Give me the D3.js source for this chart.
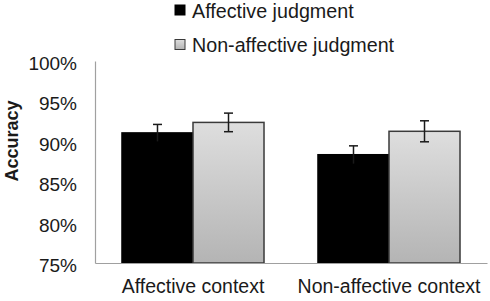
<!DOCTYPE html>
<html>
<head>
<meta charset="utf-8">
<script src="https://cdn.jsdelivr.net/npm/d3@7"></script>
<style>
  body { margin: 0; background: #fff; }
  text { font-family: Arial, "Liberation Sans", Helvetica, sans-serif; fill: #1a1a1a; }
</style>
</head>
<body>
<svg id="chart" width="490" height="301"></svg>
<script>
var categories = ["Affective context", "Non-affective context"]
var series = ["Affective judgment", "Non-affective judgment"]
var affective = [0.911, 0.884]
var nonAffective = [0.924, 0.913]
var affectiveErr = [0.0105, 0.011]
var nonAffectiveErr = [0.0115, 0.013]
var yTicks = [0.75, 0.80, 0.85, 0.90, 0.95, 1.00]

var rows = categories.map((c, i) => ({
  cat: c,
  vals: [
    {key: series[0], v: affective[i], e: affectiveErr[i]},
    {key: series[1], v: nonAffective[i], e: nonAffectiveErr[i]}
  ]
}))

var svg = d3.select("#chart"),
    margin = {top: 61, left: 95, bottom: 38, right: 3},
    width = +svg.attr("width"),
    height = +svg.attr("height");

var defs = svg.append("defs")
var grad = defs.append("linearGradient").attr("id", "grayGrad")
    .attr("x1", 0).attr("y1", 0).attr("x2", 0).attr("y2", 1)
grad.append("stop").attr("offset", "0%").attr("stop-color", "#dedede")
grad.append("stop").attr("offset", "100%").attr("stop-color", "#b4b4b4")

var x0 = d3.scaleBand()
    .domain(categories)
    .range([margin.left, width - margin.right])

var x1 = d3.scaleBand()
    .domain(series)
    .range([0, x0.bandwidth()])
    .paddingOuter(0.38)

var y = d3.scaleLinear()
    .domain([0.75, 1])
    .range([height - margin.bottom, margin.top])

var fill = d3.scaleOrdinal().domain(series).range(["#000", "url(#grayGrad)"])
var stroke = d3.scaleOrdinal().domain(series).range(["#000", "#3a3a3a"])

// y axis (labels only, plain vertical line)
var yAxis = svg.append("g")
    .attr("transform", `translate(${margin.left},0)`)
    .call(d3.axisLeft(y).tickValues(yTicks).tickSize(0).tickPadding(18).tickFormat(d3.format(".0%")))
yAxis.select(".domain").attr("stroke", "#a0a0a0").attr("stroke-width", 1.2)
yAxis.selectAll("text").style("font-size", "19px").attr("dy", "0.45em").attr("fill", "#1a1a1a")

// bars
var groups = svg.selectAll("g.group")
    .data(rows)
    .enter().append("g")
    .attr("class", "group")
    .attr("transform", d => `translate(${x0(d.cat)},0)`)

groups.selectAll("rect")
    .data(d => d.vals)
    .enter().append("rect")
    .attr("x", d => x1(d.key))
    .attr("y", d => y(d.v))
    .attr("width", x1.bandwidth())
    .attr("height", d => y(0.75) - y(d.v))
    .attr("fill", d => fill(d.key))
    .attr("stroke", d => stroke(d.key))
    .attr("stroke-width", 1.5)

// error bars
var eb = groups.selectAll("g.err")
    .data(d => d.vals)
    .enter().append("g")
    .attr("class", "err")
    .attr("stroke", "#1a1a1a")
    .attr("stroke-width", 1.5)
eb.append("line")
    .attr("x1", d => x1(d.key) + x1.bandwidth() / 2)
    .attr("x2", d => x1(d.key) + x1.bandwidth() / 2)
    .attr("y1", d => y(d.v + d.e))
    .attr("y2", d => y(d.v - d.e))
eb.append("line")
    .attr("x1", d => x1(d.key) + x1.bandwidth() / 2 - 4.5)
    .attr("x2", d => x1(d.key) + x1.bandwidth() / 2 + 4.5)
    .attr("y1", d => y(d.v + d.e))
    .attr("y2", d => y(d.v + d.e))
eb.filter(d => d.key == series[1]).append("line")
    .attr("x1", d => x1(d.key) + x1.bandwidth() / 2 - 4.5)
    .attr("x2", d => x1(d.key) + x1.bandwidth() / 2 + 4.5)
    .attr("y1", d => y(d.v - d.e))
    .attr("y2", d => y(d.v - d.e))

// x axis
var xAxis = svg.append("g")
    .attr("transform", `translate(0,${y(0.75)})`)
    .call(d3.axisBottom(x0).tickSize(0).tickPadding(16).tickSizeOuter(0))
xAxis.select(".domain").attr("stroke", "#a0a0a0").attr("stroke-width", 1.2)
xAxis.selectAll("text").style("font-size", "19.5px").attr("fill", "#1a1a1a")

// y title
svg.append("text")
    .attr("transform", "translate(18,141) rotate(-90)")
    .attr("text-anchor", "middle")
    .style("font-size", "18px")
    .style("font-weight", "bold")
    .text("Accuracy")

// legend
var legend = svg.selectAll("g.legend")
    .data(series)
    .enter().append("g")
    .attr("class", "legend")
    .attr("transform", (d, i) => `translate(175,${5 + i * 34.5})`)
legend.append("rect")
    .attr("width", 10).attr("height", 10)
    .attr("fill", d => fill(d))
    .attr("stroke", d => stroke(d))
    .attr("stroke-width", 1)
legend.append("text")
    .attr("x", 17).attr("y", 12.5)
    .style("font-size", "19.7px")
    .text(d => d)
</script>
</body>
</html>
